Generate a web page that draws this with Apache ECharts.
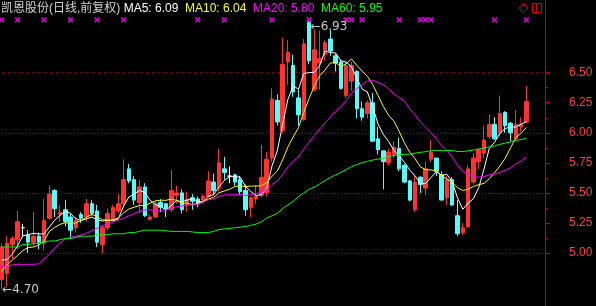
<!DOCTYPE html>
<html><head><meta charset="utf-8">
<script src="https://cdn.jsdelivr.net/npm/echarts@6/dist/echarts.min.js"></script>
<style>html,body{margin:0;padding:0;background:#000;}#c{width:596px;height:306px;}</style>
</head><body><div id="c"></div>
<script>
// ---- data ----
const stockName = '凯恩股份(日线,前复权)';
const opens = [
4.78,4.83,5.07,5.11,5.21,5.15,5.09,5.14,5.08,5.29,
5.52,5.32,5.36,5.30,5.21,5.32,5.30,5.41,5.35,5.07,
5.21,5.28,5.35,5.41,5.70,5.61,5.42,5.55,5.28,5.30,
5.42,5.41,5.36,5.48,5.50,5.40,5.46,5.45,5.44,5.47,
5.59,5.54,5.70,5.64,5.65,5.61,5.52,5.38,5.45,5.48,
5.50,5.79,6.27,6.02,6.59,6.56,6.29,6.11,6.92,6.36,
6.58,6.65,6.78,6.64,6.59,6.31,6.43,6.51,6.20,6.16,
6.25,5.95,5.85,5.75,5.82,5.87,5.73,5.60,5.36,5.63,
5.54,5.78,5.79,5.65,5.46,5.61,5.31,5.17,5.22,5.59,
5.76,5.83,5.97,6.07,6.00,6.17,6.08,5.95,6.05,6.09];
const closes = [
5.05,5.08,5.12,5.26,5.21,5.09,5.14,5.09,5.27,5.49,
5.37,5.34,5.26,5.19,5.27,5.29,5.41,5.33,5.09,5.21,
5.33,5.38,5.41,5.61,5.60,5.44,5.55,5.31,5.30,5.41,
5.38,5.37,5.52,5.50,5.36,5.45,5.43,5.41,5.47,5.60,
5.52,5.75,5.67,5.64,5.59,5.51,5.36,5.46,5.47,5.63,
5.78,6.28,6.09,6.57,6.67,6.34,6.15,6.74,6.60,6.69,
6.62,6.75,6.68,6.58,6.37,6.56,6.56,6.20,6.13,6.25,
5.93,5.86,5.76,5.84,5.88,5.70,5.59,5.44,5.59,5.57,
5.70,5.84,5.68,5.44,5.61,5.40,5.16,5.21,5.70,5.79,
5.86,5.94,6.07,5.95,6.16,6.06,6.00,6.07,6.07,6.26];
const lows = [
4.70,4.72,4.95,5.03,5.13,5.00,5.06,5.03,5.02,5.28,
5.30,5.26,5.22,5.12,5.17,5.25,5.26,5.31,5.05,5.00,
5.19,5.27,5.33,5.39,5.58,5.40,5.33,5.30,5.27,5.29,
5.34,5.30,5.34,5.41,5.33,5.34,5.36,5.38,5.41,5.46,
5.48,5.51,5.61,5.58,5.56,5.49,5.31,5.30,5.41,5.46,
5.47,5.76,6.06,6.00,6.40,6.30,6.06,6.10,6.57,6.34,
6.36,6.60,6.64,6.51,6.36,6.29,6.35,6.12,6.10,6.12,
5.93,5.82,5.53,5.73,5.79,5.68,5.58,5.43,5.34,5.50,
5.48,5.76,5.64,5.44,5.40,5.39,5.14,5.15,5.21,5.57,
5.70,5.79,5.95,5.94,5.97,6.00,5.93,5.94,6.01,6.08];
const highs = [
5.08,5.14,5.14,5.35,5.24,5.19,5.34,5.17,5.45,5.56,
5.53,5.40,5.44,5.33,5.30,5.34,5.45,5.44,5.40,5.23,
5.37,5.40,5.49,5.78,5.74,5.64,5.61,5.58,5.32,5.43,
5.45,5.41,5.69,5.56,5.53,5.51,5.49,5.47,5.49,5.68,
5.66,5.87,5.80,5.72,5.66,5.64,5.57,5.47,5.56,5.90,
5.84,6.37,6.32,6.79,6.77,6.65,6.36,6.78,6.93,6.86,
6.85,6.77,6.86,6.66,6.61,6.59,6.59,6.52,6.26,6.27,
6.33,6.05,5.85,5.87,5.93,5.96,5.74,5.61,5.65,5.64,
5.76,5.94,5.79,5.68,5.64,5.63,5.44,5.25,5.73,5.83,
5.87,6.06,6.15,6.13,6.31,6.18,6.09,6.19,6.13,6.39];
const ma5 = [
4.94,4.945,4.99,5.06,5.144,5.152,5.164,5.158,5.16,5.216,
5.272,5.312,5.346,5.33,5.286,5.27,5.284,5.298,5.278,5.266,
5.274,5.268,5.284,5.388,5.466,5.488,5.522,5.502,5.44,5.402,
5.39,5.354,5.396,5.436,5.426,5.44,5.452,5.43,5.424,5.472,
5.486,5.55,5.602,5.636,5.634,5.632,5.554,5.512,5.478,5.486,
5.54,5.724,5.85,6.07,6.278,6.39,6.364,6.494,6.5,6.504,
6.56,6.68,6.668,6.664,6.6,6.588,6.55,6.454,6.364,6.34,
6.214,6.074,5.986,5.928,5.854,5.808,5.754,5.69,5.64,5.578,
5.578,5.628,5.676,5.646,5.654,5.594,5.458,5.364,5.416,5.452,
5.544,5.7,5.872,5.922,5.996,6.036,6.048,6.048,6.072,6.092];
const ma10 = [
4.845,4.90,4.94,4.98,5.02,5.045,5.05,5.065,5.10,5.18,
5.212,5.238,5.252,5.245,5.251,5.271,5.298,5.322,5.304,5.276,
5.272,5.276,5.291,5.333,5.366,5.381,5.395,5.393,5.414,5.434,
5.439,5.438,5.449,5.438,5.414,5.415,5.403,5.413,5.43,5.449,
5.463,5.501,5.516,5.53,5.553,5.559,5.552,5.557,5.557,5.56,
5.586,5.639,5.681,5.774,5.882,5.965,6.044,6.172,6.285,6.391,
6.475,6.522,6.581,6.582,6.552,6.574,6.615,6.561,6.514,6.47,
6.401,6.312,6.22,6.146,6.097,6.011,5.914,5.838,5.784,5.716,
5.693,5.691,5.683,5.643,5.616,5.586,5.543,5.52,5.531,5.553,
5.569,5.579,5.618,5.669,5.724,5.79,5.874,5.96,5.997,6.044];
const ma20 = [
4.886,4.89,4.90,4.906,4.906,4.906,4.906,4.91,4.95,4.99,
5.04,5.085,5.115,5.13,5.14,5.15,5.165,5.185,5.205,5.228,
5.242,5.257,5.272,5.289,5.309,5.326,5.347,5.358,5.359,5.355,
5.356,5.357,5.37,5.386,5.39,5.398,5.399,5.403,5.422,5.442,
5.451,5.47,5.483,5.484,5.484,5.487,5.478,5.485,5.494,5.505,
5.525,5.57,5.599,5.652,5.718,5.762,5.798,5.865,5.921,5.976,
6.031,6.081,6.131,6.178,6.217,6.27,6.33,6.367,6.4,6.431,
6.438,6.417,6.401,6.364,6.325,6.293,6.265,6.2,6.149,6.093,
6.047,6.002,5.952,5.895,5.857,5.799,5.729,5.679,5.658,5.635,
5.631,5.635,5.651,5.656,5.67,5.688,5.709,5.74,5.764,5.799];
const ma60 = [
5.05,5.05,5.05,5.05,5.07,5.07,5.08,5.08,5.09,5.10,
5.10,5.11,5.12,5.12,5.13,5.14,5.14,5.14,5.15,5.15,
5.155,5.16,5.16,5.16,5.17,5.17,5.18,5.19,5.19,5.19,
5.19,5.185,5.18,5.18,5.18,5.18,5.175,5.17,5.17,5.17,
5.18,5.195,5.20,5.205,5.21,5.215,5.22,5.23,5.24,5.26,
5.29,5.31,5.33,5.37,5.40,5.43,5.47,5.50,5.53,5.548,
5.575,5.602,5.628,5.650,5.670,5.694,5.718,5.736,5.751,5.763,
5.773,5.781,5.790,5.801,5.811,5.818,5.821,5.822,5.831,5.837,
5.843,5.851,5.855,5.852,5.852,5.852,5.845,5.844,5.850,5.857,
5.865,5.874,5.883,5.891,5.904,5.914,5.924,5.935,5.945,5.953];
const signalDays = [0,3,8,13,18,23,37,42,51,58,65,66,68,75,79,80,81,93,99];
const signalLevel = 6.94;
const emptySlots = 3;
const categories = Array.from({length: opens.length + emptySlots}, (_, i) => 'D' + (i + 1));
const yTicks = [5.00, 6.50, 0.25];   // labelled range and step
const gridLineStep = 0.5;

// ---- build ----
const kData = opens.map((o, i) => [o, closes[i], lows[i], highs[i]]);
const maxHigh = Math.max(...highs), maxIdx = highs.indexOf(maxHigh);
const minLow = Math.min(...lows), minIdx = lows.indexOf(minLow);

const H = 306, labTop = 72.7, labBottom = 253;
const ppu = (labBottom - labTop) / (yTicks[1] - yTicks[0]);
const fullMax = yTicks[1] + labTop / ppu;
const fullMin = yTicks[0] - (H - labBottom) / ppu;

const RED = '#ff3232', CYAN = '#54fcfc', AXIS = '#c80000';
const FONT = '"Liberation Sans", "Noto Sans CJK SC", sans-serif';
const f2 = v => v.toFixed(2);

const chart = echarts.init(document.getElementById('c'), null, {renderer: 'canvas'});
chart.setOption({
  backgroundColor: '#000',
  animation: false,
  textStyle: {fontFamily: FONT},
  title: {
    left: 1, top: 3, padding: 0,
    text: '{n|' + stockName + '} {a|MA5: ' + f2(ma5[ma5.length-1]) + '}  {b|MA10: ' + f2(ma10[ma10.length-1]) +
          '}  {c|MA20: ' + f2(ma20[ma20.length-1]) + '}  {d|MA60: ' + f2(ma60[ma60.length-1]) + '}',
    textStyle: {
      fontSize: 12, fontWeight: 'normal', fontFamily: FONT,
      rich: {
        n: {color: '#d0d0d0', fontSize: 12, fontFamily: FONT},
        a: {color: '#ffffff', fontSize: 12, fontFamily: FONT},
        b: {color: '#ffff00', fontSize: 12, fontFamily: FONT},
        c: {color: '#ff00ff', fontSize: 12, fontFamily: FONT},
        d: {color: '#00ff00', fontSize: 12, fontFamily: FONT}
      }
    }
  },
  grid: [
    {left: -1, right: 51, top: 0, bottom: 0, outerBoundsMode: 'none'},
    {left: -1, right: 51, top: labTop, height: labBottom - labTop, outerBoundsMode: 'none'}
  ],
  xAxis: [
    {type: 'category', gridIndex: 0, data: categories, show: false},
    {type: 'category', gridIndex: 1, data: categories, show: false}
  ],
  yAxis: [
    {type: 'value', gridIndex: 0, position: 'right', min: fullMin, max: fullMax, scale: true,
     axisLine: {show: true, lineStyle: {color: AXIS, width: 1}},
     axisTick: {show: false}, axisLabel: {show: false}, splitLine: {show: false}},
    {type: 'value', gridIndex: 1, position: 'right', min: yTicks[0], max: yTicks[1], interval: yTicks[2],
     axisLine: {show: false},
     axisTick: {show: true, length: 5, lineStyle: {color: AXIS}},
     minorTick: {show: true, splitNumber: 2, length: 3, lineStyle: {color: AXIS}},
     axisLabel: {show: true, margin: 24, color: '#ff3c3c', fontSize: 12, fontFamily: FONT, formatter: v => f2(v)},
     splitLine: {show: false}},
    {type: 'value', gridIndex: 1, position: 'right', min: yTicks[0], max: yTicks[1], interval: gridLineStep,
     axisLine: {show: false}, axisTick: {show: false}, axisLabel: {show: false},
     splitLine: {show: true, lineStyle: {color: '#a00000', width: 1, type: [1, 2]}}}
  ],
  series: [
    {
      type: 'candlestick', name: 'K', xAxisIndex: 0, yAxisIndex: 0, data: kData,
      barWidth: 4,
      itemStyle: {color: RED, color0: CYAN, borderColor: RED, borderColor0: CYAN,
                  borderColorDoji: '#ffffff', borderWidth: 1},
      markPoint: {
        symbol: 'circle', symbolSize: 1, itemStyle: {color: 'rgba(0,0,0,0)'},
        label: {show: true, position: 'right', distance: 0, color: '#c8c8c8', fontSize: 12,
                fontFamily: '"DejaVu Sans", "Liberation Sans", sans-serif'},
        data: [
          {coord: [maxIdx, maxHigh], value: maxHigh, label: {formatter: '←' + f2(maxHigh), offset: [1, 6]}},
          {coord: [minIdx, minLow], value: minLow, label: {formatter: '←' + f2(minLow), offset: [0, 1]}}
        ]
      }
    },
    {type: 'line', name: 'MA5', data: ma5, showSymbol: false, symbol: 'none', lineStyle: {color: '#ffffff', width: 1}, z: 3},
    {type: 'line', name: 'MA10', data: ma10, showSymbol: false, symbol: 'none', lineStyle: {color: '#ffff00', width: 1}, z: 3},
    {type: 'line', name: 'MA20', data: ma20, showSymbol: false, symbol: 'none', lineStyle: {color: '#ff00ff', width: 1}, z: 3},
    {type: 'line', name: 'MA60', data: ma60, showSymbol: false, symbol: 'none', lineStyle: {color: '#00ff00', width: 1}, z: 3},
    {type: 'scatter', name: 'signals', data: signalDays.map(d => [d, signalLevel]),
     symbol: 'path://M0,2L2,0L5,3L8,0L10,2L7,5L10,8L8,10L5,7L2,10L0,8L3,5Z', symbolSize: 6,
     itemStyle: {color: '#ff00ff'}, z: 4}
  ],
  graphic: [
    {type: 'polygon', shape: {points: [[523.5, 3.5], [528, 8], [523.5, 12.5], [519, 8]]},
     style: {fill: 'none', stroke: '#e00000', lineWidth: 1}},
    {type: 'rect', shape: {x: 532.5, y: 3.5, width: 9, height: 9},
     style: {fill: 'none', stroke: '#e00000', lineWidth: 1}},
    {type: 'line', shape: {x1: 536.5, y1: 3.5, x2: 536.5, y2: 12.5},
     style: {stroke: '#e00000', lineWidth: 1}}
  ]
});
</script>
</body></html>
